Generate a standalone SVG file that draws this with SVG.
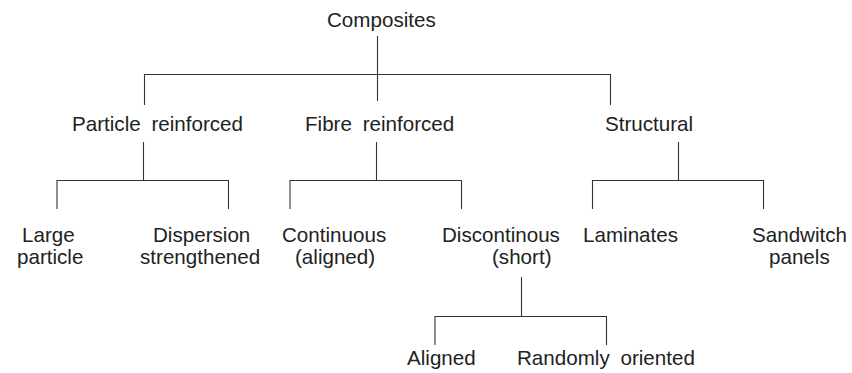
<svg xmlns="http://www.w3.org/2000/svg" width="852" height="373" viewBox="0 0 852 373">
<style>
text{font-family:"Liberation Sans",Arial,sans-serif;font-size:20.6px;fill:#222}
.w{word-spacing:5px}
#connectors path{fill:none;stroke:#333;stroke-width:1.1}
</style>
<rect width="852" height="373" fill="#fff"/>
<g id="connectors">
<path d="M377.5 36V101M144.5 105V74.5H610.5V105"/>
<path d="M143.5 142V180.5M57 209V180.5H228.5V209"/>
<path d="M376.5 142V180.5M290 209V180.5H461.5V209"/>
<path d="M678.5 142V180.5M592.5 209V180.5H763.5V209"/>
<path d="M521.5 277V316.5M435 345V316.5H606.5V345"/>
</g>
<g id="composites"><text x="327" y="27">Composites</text></g>
<g id="particle"><text class="w" x="72" y="131">Particle reinforced</text></g>
<g id="fibre"><text class="w" x="305" y="131">Fibre reinforced</text></g>
<g id="structural"><text x="605" y="131">Structural</text></g>
<g id="large"><text x="22" y="242">Large</text><text x="17" y="264">particle</text></g>
<g id="dispersion"><text x="153" y="242">Dispersion</text><text x="140" y="264">strengthened</text></g>
<g id="continuous"><text x="282" y="242">Continuous</text><text x="295" y="264">(aligned)</text></g>
<g id="discontinous"><text x="442" y="242">Discontinous</text><text x="492" y="264">(short)</text></g>
<g id="laminates"><text x="583" y="242">Laminates</text></g>
<g id="sandwitch"><text x="752" y="242">Sandwitch</text><text x="769" y="264">panels</text></g>
<g id="aligned"><text x="407" y="365">Aligned</text></g>
<g id="random"><text class="w" x="517" y="365">Randomly oriented</text></g>
</svg>
